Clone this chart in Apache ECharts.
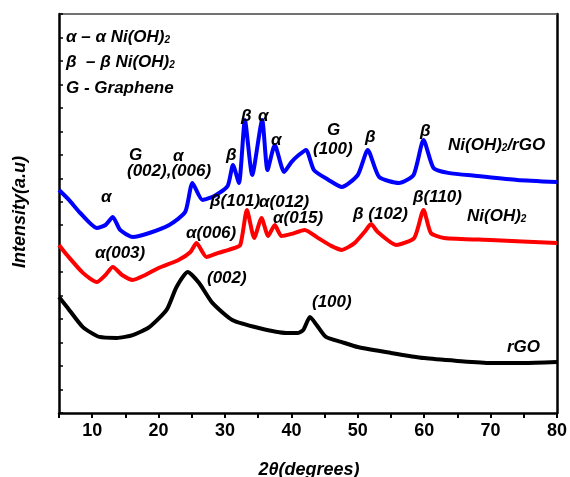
<!DOCTYPE html>
<html>
<head>
<meta charset="utf-8">
<script src="https://cdn.jsdelivr.net/npm/echarts@6/dist/echarts.min.js"></script>
<style>
  html, body { margin: 0; padding: 0; background: #fff; }
  #main { width: 570px; height: 477px; }
</style>
</head>
<body>
<div id="main"></div>
<script>
// 2theta (degrees) / intensity (a.u.)
var rgoX = [5, 6.2, 8.6, 11.1, 13.7, 16.1, 18.6, 21.2, 22.7, 24.4, 26.1, 28.1, 31.1, 35.1, 39.2, 41, 41.8, 42.8, 43.8, 45.2, 47.5, 50, 55, 60, 65, 70, 75, 80];
var rgoY = [4.94, 4.52, 3.66, 3.24, 3.20, 3.32, 3.66, 4.39, 5.37, 6.01, 5.54, 4.69, 3.96, 3.62, 3.41, 3.41, 3.54, 4.09, 3.75, 3.24, 3.03, 2.81, 2.56, 2.34, 2.22, 2.13, 2.13, 2.17];

var niohX = [5, 6.2, 8.6, 10.7, 12, 13.1, 14.5, 16.1, 18, 20, 23, 24.8, 25.7, 27.2, 29, 31, 32.3, 33.3, 34.4, 35.5, 36.5, 37.5, 38.5, 40, 42, 44, 46, 47.6, 49.5, 51, 52, 53, 55.8, 58.5, 59.9, 61, 63, 70, 80];
var niohY = [7.16, 6.73, 5.97, 5.58, 5.88, 6.22, 5.88, 5.67, 5.88, 6.18, 6.52, 6.86, 7.24, 6.65, 6.82, 6.99, 7.16, 8.65, 7.46, 8.31, 7.54, 8.01, 7.54, 7.63, 7.80, 7.46, 7.12, 6.95, 7.24, 7.71, 8.05, 7.71, 7.16, 7.46, 8.65, 7.67, 7.46, 7.37, 7.24];

var compX = [5, 6.5, 8.2, 10.7, 12, 13.1, 14.2, 16.1, 18.6, 21.6, 24, 25.1, 26.6, 28.4, 30.4, 31.2, 32.1, 33, 34.1, 35.6, 36.4, 37.5, 38.9, 40, 41.1, 42.2, 43.4, 45.6, 47.6, 50, 51.5, 53.2, 56.2, 58.4, 59.9, 61.4, 63.6, 68, 74, 80];
var compY = [9.50, 9.08, 8.52, 7.88, 8.01, 8.35, 7.80, 7.50, 7.67, 8.01, 8.56, 9.80, 9.08, 9.25, 9.67, 10.57, 9.80, 12.48, 10.14, 12.48, 10.35, 11.42, 10.27, 10.69, 10.99, 11.21, 10.35, 9.93, 9.63, 10.14, 11.21, 10.06, 9.80, 10.14, 11.63, 10.44, 10.23, 10.10, 9.93, 9.84];

var xTicks = [10, 20, 30, 40, 50, 60, 70, 80];

function pairs(xs, ys) {
    var out = [];
    for (var i = 0; i < xs.length; i++) {
        out.push([xs[i], ys[i]]);
    }
    return out;
}

var FONT = '"Liberation Sans", Arial, sans-serif';
var rich = {
    sub: { fontSize: 10, fontWeight: 'bold', fontStyle: 'italic', fontFamily: FONT, verticalAlign: 'bottom', lineHeight: 12, padding: [12, 0, 0, 0] }
};

// 文字标注
function label(x, y, text) {
    return {
        type: 'text',
        x: x,
        y: y,
        z: 10,
        style: {
            text: text,
            fill: '#000',
            font: 'italic bold 17px ' + FONT,
            align: 'left',
            verticalAlign: 'middle',
            rich: rich
        }
    };
}

var notes = [
    label(66, 37, 'α – α Ni(OH){sub|2}'),
    label(66, 62, 'β  – β Ni(OH){sub|2}'),
    label(66, 88, 'G - Graphene'),
    label(101, 197, 'α'),
    label(129, 155, 'G'),
    label(173, 156, 'α'),
    label(127, 171, '(002),(006)'),
    label(226, 155, 'β'),
    label(241, 116, 'β'),
    label(258, 116, 'α'),
    label(271, 140, 'α'),
    label(327, 130, 'G'),
    label(313, 149, '(100)'),
    label(365, 137, 'β'),
    label(420, 131, 'β'),
    label(448, 145, 'Ni(OH){sub|2}/rGO'),
    label(210, 201, 'β(101)'),
    label(259, 202, 'α(012)'),
    label(273, 218, 'α(015)'),
    label(186, 233, 'α(006)'),
    label(353, 214, 'β (102)'),
    label(413, 197, 'β(110)'),
    label(467, 216, 'Ni(OH){sub|2}'),
    label(95, 253, 'α(003)'),
    label(207, 278, '(002)'),
    label(312, 302, '(100)'),
    label(507, 347, 'rGO'),
    {
        type: 'text',
        x: 20,
        y: 212,
        rotation: Math.PI / 2,
        style: {
            text: 'Intensity(a.u)',
            fill: '#000',
            font: 'italic bold 18px ' + FONT,
            align: 'center',
            verticalAlign: 'middle'
        }
    },
    {
        type: 'text',
        x: 309,
        y: 470,
        style: {
            text: '2θ(degrees)',
            fill: '#000',
            font: 'italic bold 18px ' + FONT,
            align: 'center',
            verticalAlign: 'middle'
        }
    }
];

var chart = echarts.init(document.getElementById('main'));
chart.setOption({
    backgroundColor: '#fff',
    animation: false,
    grid: { left: 59, right: 11, top: 14, bottom: 64 },
    xAxis: [{
        type: 'value',
        min: 5,
        max: 80,
        interval: 5,
        position: 'bottom',
        axisLine: { show: true, lineStyle: { color: '#000', width: 2.5 } },
        axisTick: { show: true, inside: false, length: 5, lineStyle: { color: '#000', width: 2 } },
        axisLabel: {
            margin: 9,
            color: '#000',
            fontSize: 18,
            fontWeight: 'bold',
            fontFamily: FONT,
            showMaxLabel: true,
            formatter: function (v) {
                return xTicks.indexOf(v) >= 0 ? String(v) : '';
            }
        },
        splitLine: { show: false }
    }, {
        type: 'value',
        min: 5,
        max: 80,
        position: 'top',
        axisLine: { show: true, onZero: false, lineStyle: { color: '#444', width: 1.5 } },
        axisTick: { show: false },
        axisLabel: { show: false },
        splitLine: { show: false }
    }],
    yAxis: [{
        type: 'value',
        min: 0,
        max: 17,
        interval: 1,
        position: 'left',
        axisLine: { show: true, onZero: false, lineStyle: { color: '#000', width: 2.5 } },
        axisTick: { show: true, inside: true, length: 4, lineStyle: { color: '#000', width: 1.5 } },
        axisLabel: { show: false },
        splitLine: { show: false }
    }, {
        type: 'value',
        min: 0,
        max: 17,
        position: 'right',
        axisLine: { show: true, onZero: false, lineStyle: { color: '#000', width: 2.5 } },
        axisTick: { show: false },
        axisLabel: { show: false },
        splitLine: { show: false }
    }],
    series: [{
        name: 'rGO',
        type: 'line',
        data: pairs(rgoX, rgoY),
        showSymbol: false,
        smooth: 0.2,
        lineStyle: { color: '#000', width: 4 }
    }, {
        name: 'Ni(OH)2',
        type: 'line',
        data: pairs(niohX, niohY),
        showSymbol: false,
        smooth: 0.2,
        lineStyle: { color: '#ff0000', width: 4 }
    }, {
        name: 'Ni(OH)2/rGO',
        type: 'line',
        data: pairs(compX, compY),
        showSymbol: false,
        smooth: 0.2,
        lineStyle: { color: '#0000ff', width: 4 }
    }],
    graphic: notes
});
</script>
</body>
</html>
